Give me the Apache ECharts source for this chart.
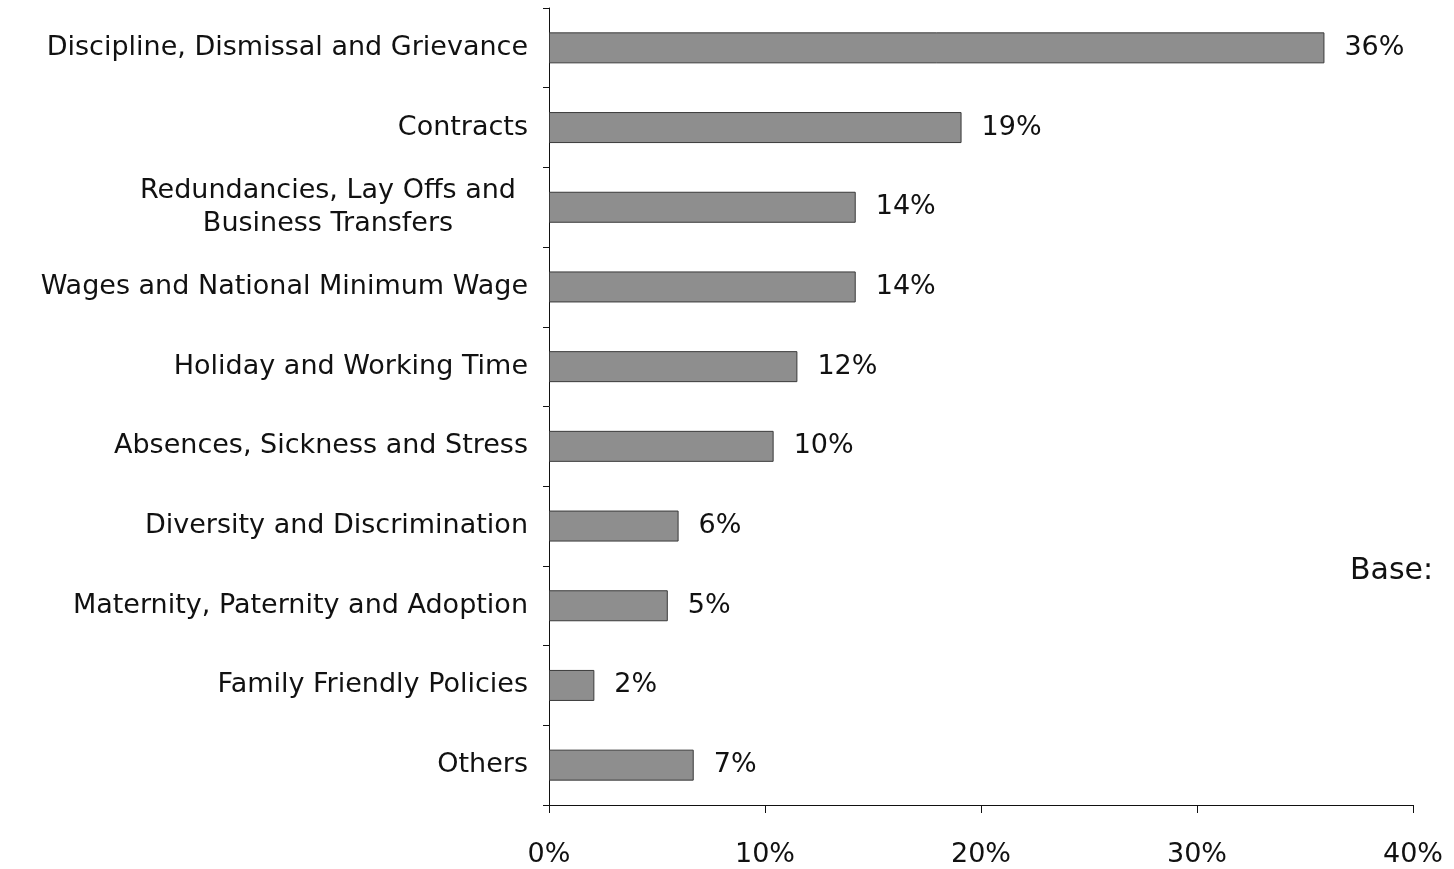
<!DOCTYPE html>
<html>
<head>
<meta charset="utf-8">
<script src="https://cdn.jsdelivr.net/npm/echarts@6/dist/echarts.min.js"></script>
<style>
html,body{margin:0;padding:0;background:#fff;}
#chart{width:1454px;height:869px;}
</style>
</head>
<body>
<div id="chart"></div>
<script>
const categories = [
  "Discipline, Dismissal and Grievance",
  "Contracts",
  "Redundancies, Lay Offs and\nBusiness Transfers",
  "Wages and National Minimum Wage",
  "Holiday and Working Time",
  "Absences, Sickness and Stress",
  "Diversity and Discrimination",
  "Maternity, Paternity and Adoption",
  "Family Friendly Policies",
  "Others"
];
const values = [35.9, 19.1, 14.2, 14.2, 11.5, 10.4, 6.0, 5.5, 2.1, 6.7];
const valueLabels = ["36%", "19%", "14%", "14%", "12%", "10%", "6%", "5%", "2%", "7%"];
const xTicks = [0, 10, 20, 30, 40];

const FONT = "DejaVu Sans";
const FS = 27;
const chart = echarts.init(document.getElementById('chart'), null, {renderer: 'canvas'});
chart.setOption({
  animation: false,
  backgroundColor: '#ffffff',
  grid: {left: 549, right: 41, top: 8, bottom: 64, containLabel: false},
  xAxis: {
    type: 'value',
    min: xTicks[0], max: xTicks[xTicks.length - 1], interval: 10,
    axisLine: {show: true, lineStyle: {color: '#111', width: 1}},
    axisTick: {show: true, inside: false, length: 8, lineStyle: {color: '#111'}},
    splitLine: {show: false},
    axisLabel: {formatter: '{value}%', fontFamily: FONT, fontSize: FS, color: '#111', margin: 36}
  },
  yAxis: {
    type: 'category',
    inverse: true,
    data: categories,
    axisLine: {show: true, lineStyle: {color: '#111', width: 1}},
    axisTick: {show: true, inside: false, length: 6, lineStyle: {color: '#111'}},
    axisLabel: {
      fontFamily: FONT, fontSize: FS, color: '#111', margin: 21, lineHeight: 33,
      formatter: function (v) {
        if (v.indexOf('\n') >= 0) {
          return v.split('\n').map(s => '{c|' + s + '}').join('\n');
        }
        return v;
      },
      rich: {c: {width: 400, align: 'center', fontFamily: FONT, fontSize: FS, color: '#111', lineHeight: 33}}
    }
  },
  series: [{
    type: 'bar',
    data: values,
    barWidth: 31,
    itemStyle: {color: '#8e8e8e', borderColor: '#3a3a3a', borderWidth: 1},
    label: {
      show: true, position: 'right', distance: 20,
      fontFamily: FONT, fontSize: FS, color: '#111',
      formatter: p => valueLabels[p.dataIndex]
    }
  }],
  graphic: [{
    type: 'text', left: 1350, top: 556,
    style: {text: 'Base: ', font: '30px "DejaVu Sans"', fill: '#111'}
  }]
});
</script>
</body>
</html>
